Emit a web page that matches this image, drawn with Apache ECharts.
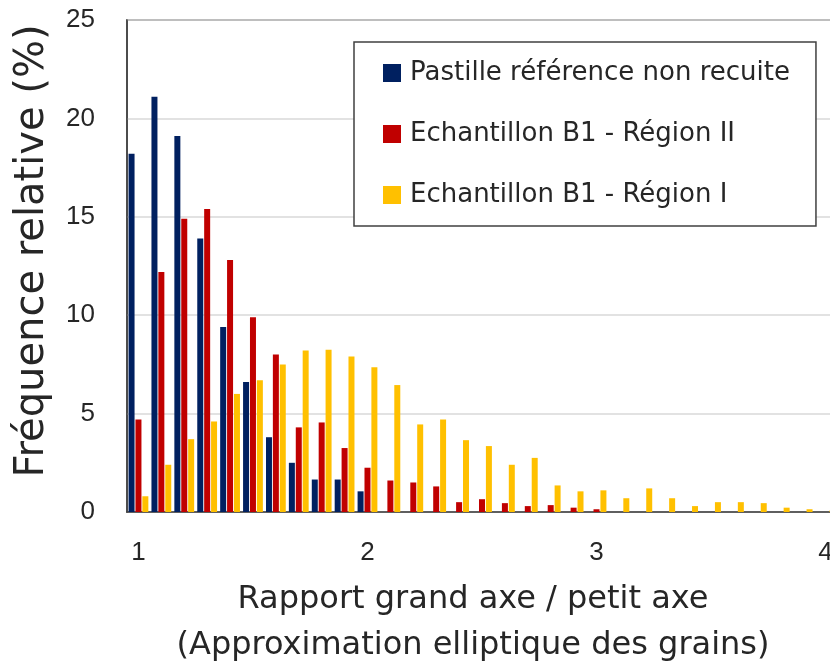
<!DOCTYPE html>
<html>
<head>
<meta charset="utf-8">
<script src="https://cdn.jsdelivr.net/npm/echarts@6/dist/echarts.min.js"></script>
<style>
html,body{margin:0;padding:0;background:#fff;}
#chart{width:830px;height:665px;}
</style>
</head>
<body>
<div id="chart"></div>
<script>
const categories = ["1.0","1.1","1.2","1.3","1.4","1.5","1.6","1.7","1.8","1.9",
  "2.0","2.1","2.2","2.3","2.4","2.5","2.6","2.7","2.8","2.9",
  "3.0","3.1","3.2","3.3","3.4","3.5","3.6","3.7","3.8","3.9","4.0"];
const seriesNames = ["Pastille référence non recuite", "Echantillon B1 - Région II", "Echantillon B1 - Région I"];
const pastille = [18.2, 21.1, 19.1, 13.9, 9.4, 6.6, 3.8, 2.5, 1.65, 1.65,
  1.05, 0, 0, 0, 0, 0, 0, 0, 0, 0,
  0, 0, 0, 0, 0, 0, 0, 0, 0, 0, 0];
const regionII = [4.7, 12.2, 14.9, 15.4, 12.8, 9.9, 8.0, 4.3, 4.55, 3.25,
  2.25, 1.6, 1.5, 1.3, 0.5, 0.65, 0.45, 0.3, 0.35, 0.22,
  0.14, 0, 0, 0, 0, 0, 0, 0, 0, 0, 0];
const regionI = [0.8, 2.4, 3.7, 4.6, 6.0, 6.7, 7.5, 8.2, 8.25, 7.9,
  7.35, 6.45, 4.45, 4.7, 3.65, 3.35, 2.4, 2.75, 1.35, 1.05,
  1.1, 0.7, 1.2, 0.7, 0.3, 0.5, 0.5, 0.45, 0.22, 0.14, 0.08];
const yTicks = [0, 5, 10, 15, 20, 25];
const xAxisTitle = "Rapport grand axe / petit axe\n(Approximation elliptique des grains)";
const yAxisTitle = "Fréquence relative (%)";

const FONT = "DejaVu Sans";
const NUMFONT = "Liberation Sans";
const chart = echarts.init(document.getElementById('chart'), null, {renderer: 'canvas'});
const colors = ['#002060', '#C00000', '#FFC000'];
const mk = (name, data, color) => ({
  name, type: 'bar', data, barWidth: 6, barGap: '15%',
  itemStyle: {color}, animation: false
});
chart.setOption({
  animation: false,
  textStyle: {fontFamily: FONT},
  grid: {left: 127, top: 20, width: 710, bottom: 153, show: true, borderColor: '#404040', borderWidth: 1.5,
    outerBoundsMode: 'none', containLabel: false},
  legend: {
    orient: 'vertical', left: 354, top: 42,
    data: seriesNames,
    itemWidth: 18, itemHeight: 18, itemGap: 29,
    padding: [15, 26, 15, 29],
    backgroundColor: '#fff', borderColor: '#404040', borderWidth: 1.5,
    icon: 'rect',
    textStyle: {fontFamily: FONT, fontSize: 26, color: '#262626', lineHeight: 32, padding: [0, 0, 0, 4]}
  },
  xAxis: {
    type: 'category', data: categories,
    axisLine: {lineStyle: {color: '#404040', width: 1.5}},
    axisTick: {show: false},
    axisLabel: {interval: 9, fontSize: 26, color: '#262626', margin: 28, fontFamily: NUMFONT,
      formatter: v => String(Number(v))},
    name: xAxisTitle, nameLocation: 'middle', nameGap: 65,
    nameTextStyle: {fontSize: 32, color: '#262626', lineHeight: 46, fontFamily: FONT, padding: [0, 18, 0, 0]}
  },
  yAxis: {
    type: 'value', min: yTicks[0], max: yTicks[yTicks.length - 1], interval: 5,
    axisLine: {show: true, lineStyle: {color: '#404040', width: 1.5}},
    axisTick: {show: false},
    splitLine: {lineStyle: {color: '#d9d9d9', width: 1.5}},
    axisLabel: {fontSize: 26, color: '#262626', margin: 32, fontFamily: NUMFONT},
    name: yAxisTitle, nameLocation: 'middle', nameGap: 74,
    nameTextStyle: {fontSize: 40, color: '#262626', fontFamily: FONT, padding: [0, 0, 0, 30]}
  },
  series: [
    mk(seriesNames[0], pastille, colors[0]),
    mk(seriesNames[1], regionII, colors[1]),
    mk(seriesNames[2], regionI, colors[2])
  ]
});
</script>
</body>
</html>
